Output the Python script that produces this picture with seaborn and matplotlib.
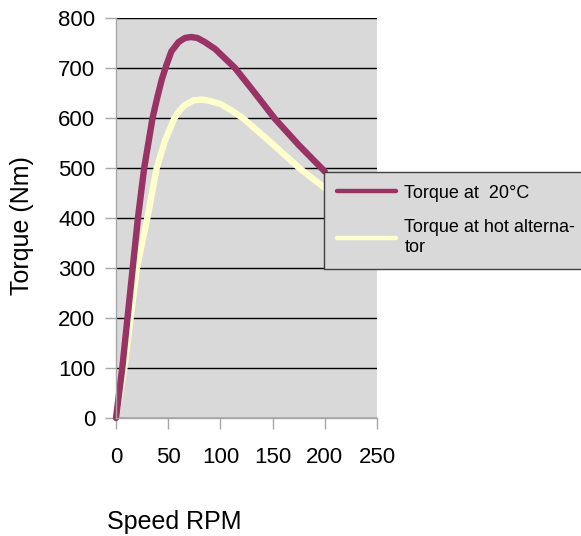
import pandas as pd
import matplotlib.pyplot as plt
import seaborn as sns
from matplotlib.lines import Line2D

# Torque curves
SPEED_20C = [0, 6, 11, 16, 21, 27, 35, 40, 44, 48, 53, 60, 66, 72, 78, 85, 95, 103, 114, 130, 152, 175, 200]
TORQUE_20C = [0, 100, 200, 300, 400, 500, 600, 645, 678, 704, 733, 752, 760, 762, 760, 752, 738, 722, 700, 658, 599, 546, 493]

SPEED_HOT = [0, 8, 14, 20, 30, 39, 47, 56, 61, 66, 74, 82, 90, 100, 110, 122, 150, 176, 200]
TORQUE_HOT = [0, 100, 200, 300, 400, 500, 555, 600, 615, 626, 635, 637, 634, 628, 616, 599, 548, 499, 460]

LABEL_20C = "Torque at  20°C"
LABEL_HOT = "Torque at hot alterna-\ntor"

X_TICKS = [0, 50, 100, 150, 200, 250]
Y_TICKS = [0, 100, 200, 300, 400, 500, 600, 700, 800]

COLOR_20C = "#993366"
COLOR_HOT = "#ffffcc"
BG = "#d9d9d9"
AXIS_GRAY = "#a6a6a6"

sns.set_style("white")
plt.rcParams["font.family"] = ["Liberation Sans", "DejaVu Sans"]
plt.rcParams["text.color"] = "black"
plt.rcParams["axes.labelcolor"] = "black"
plt.rcParams["xtick.labelcolor"] = "black"
plt.rcParams["ytick.labelcolor"] = "black"

df_20c = pd.DataFrame({"speed": SPEED_20C, "torque": TORQUE_20C})
df_hot = pd.DataFrame({"speed": SPEED_HOT, "torque": TORQUE_HOT})

fig = plt.figure(figsize=(5.81, 5.36), dpi=100)
ax = fig.add_axes([116 / 581, 1 - 418 / 536, 261 / 581, 400 / 536])
ax.set_facecolor(BG)

# hot curve first so the 20°C curve sits on top
sns.lineplot(data=df_hot, x="speed", y="torque", ax=ax, color=COLOR_HOT,
             lw=4.6, clip_on=False, solid_joinstyle="round", legend=False)
sns.lineplot(data=df_20c, x="speed", y="torque", ax=ax, color=COLOR_20C,
             lw=4.6, clip_on=False, solid_joinstyle="round", legend=False)

ax.set_xlim(0, 250)
ax.set_ylim(0, 800)
ax.set_xticks(X_TICKS)
ax.set_yticks(Y_TICKS)

ax.grid(axis="y", color="black", lw=1.0)
ax.set_axisbelow(True)
for side in ["top", "right"]:
    ax.spines[side].set_visible(False)
for side in ["left", "bottom"]:
    ax.spines[side].set_color(AXIS_GRAY)
    ax.spines[side].set_linewidth(1.0)

ax.tick_params(axis="y", length=8, width=1, color=AXIS_GRAY, pad=7, labelsize=16, left=True)
ax.tick_params(axis="x", length=8, width=1, color=AXIS_GRAY, pad=13, labelsize=16, bottom=True)

ax.set_xlabel("Speed RPM", fontsize=18)
ax.xaxis.set_label_coords((107 - 116) / 261, (418 - 522) / 400)
ax.xaxis.label.set_ha("left")
ax.xaxis.label.set_va("center")

ax.set_ylabel("Torque (Nm)", fontsize=18)
ax.yaxis.set_label_coords((22 - 116) / 261, 0.48)
ax.yaxis.label.set_va("center")

handles = [Line2D([], [], color=COLOR_20C, lw=3.2), Line2D([], [], color=COLOR_HOT, lw=3.2)]
leg = fig.legend(handles, [LABEL_20C, LABEL_HOT], loc="upper left",
                 bbox_to_anchor=(324 / 581, 1 - 172 / 536), borderaxespad=0,
                 fontsize=13, frameon=True, fancybox=False, framealpha=1,
                 facecolor=BG, edgecolor="#404040", handlelength=3.3,
                 handletextpad=0.45, borderpad=0.7, labelspacing=0.95)
leg.get_frame().set_linewidth(1.0)
for t in leg.get_texts():
    t.set_linespacing(1.25)

fig.savefig("out.png", dpi=100)
